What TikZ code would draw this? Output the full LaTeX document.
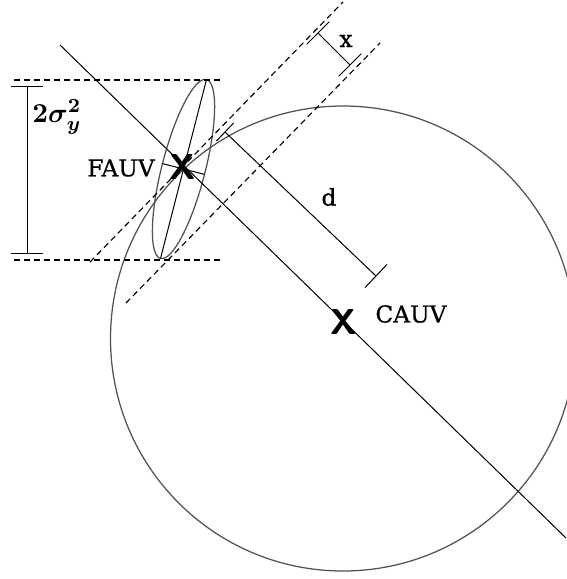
\documentclass[tikz,border=0pt]{standalone}
\usepackage{amsmath,amssymb}
\usepackage{fontspec}
\newfontfamily\labelfont[RawFeature={embolden=0.8}]{DejaVu Serif}
\usepackage{tikz}
\usetikzlibrary{calc}
\usepackage{xcolor}
\begin{document}
\begin{tikzpicture}[x=0.4pt,y=-0.4pt,line width=0.4pt,
  guide/.style={dash pattern=on 2.4pt off 1.6pt,line width=0.45pt},
  contour/.style={draw=black!68,line width=0.5pt},
  marker/.style={font=\Large\sffamily\bfseries,inner sep=0pt},
  tag/.style={font=\labelfont\fontsize{9.3}{11}\selectfont}]
\useasboundingbox (0,0) rectangle (566,579);
% contours
\draw[contour] (343,338.5) circle[radius=232.5];
\draw[contour] (183.5,169) ellipse[x radius=92.4,y radius=21.7,rotate=75.6];
% ellipse axes and centre line
\coordinate (majA) at (206.5,79.5); \coordinate (majB) at (160.5,258.5);
\coordinate (minA) at (162.5,163.6); \coordinate (minB) at (204.5,174.4);
\draw (majA) -- (majB);
\draw (minA) -- (minB);
\coordinate (axA) at (60,45); \coordinate (axB) at (566,538);
\draw (axA) -- (axB);
% guide lines
\coordinate (hT1) at (14,80); \coordinate (hT2) at (222,80);
\coordinate (hB1) at (14,260); \coordinate (hB2) at (222,260);
\draw[guide] (hT1) -- (hT2);
\draw[guide] (hB1) -- (hB2);
\coordinate (gA1) at (90,262); \coordinate (gA2) at (343,2);
\coordinate (gB1) at (126,303); \coordinate (gB2) at (380,43);
\draw[guide] (gA1) -- (gA2);
\draw[guide] (gB1) -- (gB2);
% dimensions
\coordinate (sA) at (27,87); \coordinate (sB) at (27,253);
\draw (sA) -- (sB);
\draw ($(sA)!6.4pt!90:(sB)$) -- ($(sA)!6.4pt!-90:(sB)$);
\draw ($(sB)!6.4pt!90:(sA)$) -- ($(sB)!6.4pt!-90:(sA)$);
\coordinate (dA) at (225,132); \coordinate (dB) at (376,276);
\draw (dA) -- (dB);
\draw ($(dA)!5pt!90:(dB)$) -- ($(dA)!5pt!-90:(dB)$);
\draw ($(dB)!6.4pt!90:(dA)$) -- ($(dB)!6.4pt!-90:(dA)$);
\coordinate (xA) at (318,33); \coordinate (xB) at (350,65);
\draw (xA) -- (xB);
\draw ($(xA)!6.4pt!90:(xB)$) -- ($(xA)!6.4pt!-90:(xB)$);
\draw ($(xB)!6.4pt!90:(xA)$) -- ($(xB)!6.4pt!-90:(xA)$);
% markers and labels
\node[marker] (fauv) at (183,167) {X};
\node[marker] (cauv) at (344,322) {X};
\node[tag] (fauvlbl) at (121,168) {FAUV};
\node[tag] (cauvlbl) at (411,314) {CAUV};
\node[tag] (dlbl) at (329,197) {d};
\node[tag] (xlbl) at (346,41) {x};
\node[font=\fontsize{11}{13}\selectfont\boldmath] (sigmalbl) at (57,117) {$2\sigma_y^2$};
\end{tikzpicture}
\end{document}
